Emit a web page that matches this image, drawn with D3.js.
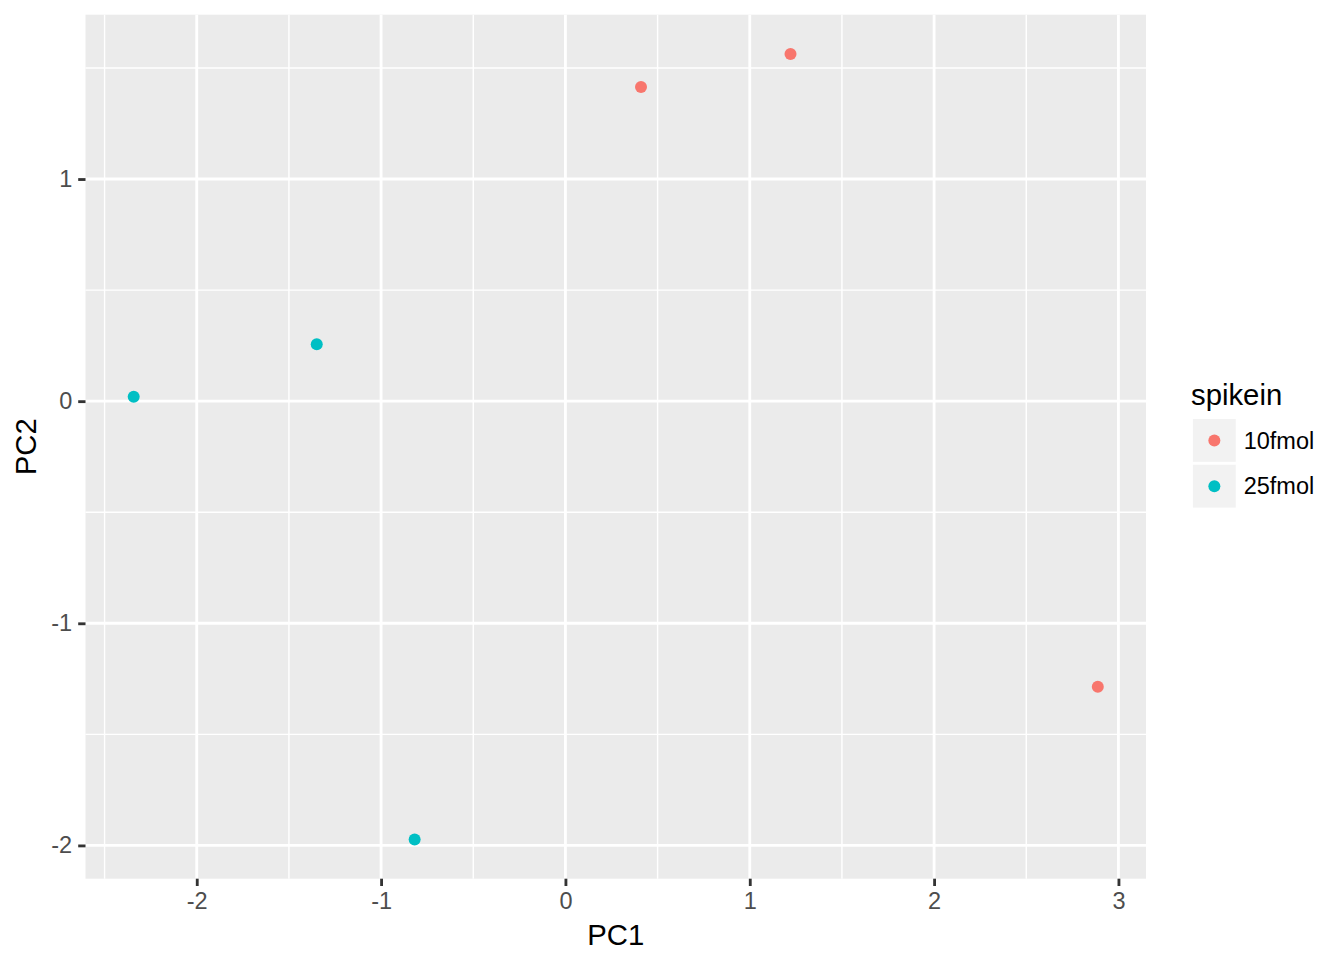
<!DOCTYPE html>
<html>
<head>
<meta charset="utf-8">
<script src="https://cdn.jsdelivr.net/npm/d3@7"></script>
<style>
  html, body { margin: 0; padding: 0; background: #ffffff; }
  svg { display: block; font-family: "Liberation Sans", Arial, Helvetica, sans-serif; }
</style>
</head>
<body>
<svg id="chart" width="1344" height="960"></svg>
<script>
// ---- data ----
const pc1 = [0.410, 1.221, 2.888, -2.342, -1.349, -0.818];
const pc2 = [1.414, 1.563, -1.286, 0.020, 0.256, -1.973];
const spikein = ["10fmol", "10fmol", "10fmol", "25fmol", "25fmol", "25fmol"];
const groups = ["10fmol", "25fmol"];
const groupColors = ["#F8766D", "#00BFC4"];
const xTicks = [-2, -1, 0, 1, 2, 3];
const xMinor = [-2.5, -1.5, -0.5, 0.5, 1.5, 2.5];
const yTicks = [-2, -1, 0, 1];
const yMinor = [-1.5, -0.5, 0.5, 1.5];
const xTitle = "PC1";
const yTitle = "PC2";
const legendTitle = "spikein";

// ---- layout ----
const panel = { left: 85.5, right: 1146, top: 14.7, bottom: 878.7 };
const textSize = 23.5, titleSize = 29.3;

function expand(vals) {
  const [a, b] = d3.extent(vals);
  const s = b - a;
  return [a - 0.05 * s, b + 0.05 * s];
}

const x = d3.scaleLinear().domain(expand(pc1)).range([panel.left, panel.right]);
const y = d3.scaleLinear().domain(expand(pc2)).range([panel.bottom, panel.top]);
const color = d3.scaleOrdinal().domain(groups).range(groupColors);

const svg = d3.select("#chart");

// panel background
svg.append("rect")
  .attr("x", panel.left).attr("y", panel.top)
  .attr("width", panel.right - panel.left).attr("height", panel.bottom - panel.top)
  .attr("fill", "#EBEBEB");

const grid = svg.append("g");
// minor grid
grid.selectAll(".vminor").data(xMinor).enter().append("line")
  .attr("x1", d => x(d)).attr("x2", d => x(d))
  .attr("y1", panel.top).attr("y2", panel.bottom)
  .attr("stroke", "#ffffff").attr("stroke-width", 1.42);
grid.selectAll(".hminor").data(yMinor).enter().append("line")
  .attr("y1", d => y(d)).attr("y2", d => y(d))
  .attr("x1", panel.left).attr("x2", panel.right)
  .attr("stroke", "#ffffff").attr("stroke-width", 1.42);
// major grid
grid.selectAll(".vmajor").data(xTicks).enter().append("line")
  .attr("x1", d => x(d)).attr("x2", d => x(d))
  .attr("y1", panel.top).attr("y2", panel.bottom)
  .attr("stroke", "#ffffff").attr("stroke-width", 2.84);
grid.selectAll(".hmajor").data(yTicks).enter().append("line")
  .attr("y1", d => y(d)).attr("y2", d => y(d))
  .attr("x1", panel.left).attr("x2", panel.right)
  .attr("stroke", "#ffffff").attr("stroke-width", 2.84);

// axes
const xAxis = d3.axisBottom(x).tickValues(xTicks).tickSize(7.3).tickPadding(6).tickFormat(d3.format("d"));
const yAxis = d3.axisLeft(y).tickValues(yTicks).tickSize(7.3).tickPadding(6).tickFormat(d3.format("d"));

const gx = svg.append("g").attr("transform", `translate(0,${panel.bottom})`).call(xAxis);
const gy = svg.append("g").attr("transform", `translate(${panel.left},0)`).call(yAxis);
[gx, gy].forEach(g => {
  g.select(".domain").remove();
  g.selectAll(".tick line").attr("stroke", "#333333").attr("stroke-width", 2.84);
  g.selectAll(".tick text")
    .attr("fill", "#4D4D4D")
    .attr("font-size", textSize)
    .attr("font-family", "'Liberation Sans', Arial, Helvetica, sans-serif");
});
// ascii hyphen-minus like R
gx.selectAll(".tick text").text(d => String(d));
gy.selectAll(".tick text").text(d => String(d));

// axis titles
svg.append("text")
  .attr("x", (panel.left + panel.right) / 2).attr("y", 945)
  .attr("text-anchor", "middle").attr("font-size", titleSize).attr("fill", "#000")
  .text(xTitle);
svg.append("text")
  .attr("transform", `translate(36,${(panel.top + panel.bottom) / 2}) rotate(-90)`)
  .attr("text-anchor", "middle").attr("font-size", titleSize).attr("fill", "#000")
  .text(yTitle);

// points
svg.append("g").selectAll("circle").data(pc1.map((v, i) => ({ x: v, y: pc2[i], g: spikein[i] })))
  .enter().append("circle")
  .attr("cx", d => x(d.x)).attr("cy", d => y(d.y)).attr("r", 6)
  .attr("fill", d => color(d.g));

// legend
const legend = svg.append("g");
legend.append("text")
  .attr("x", 1191).attr("y", 405)
  .attr("font-size", titleSize).attr("fill", "#000")
  .text(legendTitle);
const keySize = 45.7, keyTop = 417.6, keyLeft = 1191.5;
const items = legend.selectAll(".item").data(groups).enter().append("g")
  .attr("transform", (d, i) => `translate(${keyLeft},${keyTop + i * keySize})`);
items.append("rect")
  .attr("width", keySize).attr("height", keySize)
  .attr("fill", "#F2F2F2").attr("stroke", "#ffffff").attr("stroke-width", 2.84);
items.append("circle")
  .attr("cx", keySize / 2).attr("cy", keySize / 2).attr("r", 6)
  .attr("fill", d => color(d));
items.append("text")
  .attr("x", keySize + 6.5).attr("y", keySize / 2 + 8.3)
  .attr("font-size", textSize).attr("fill", "#000")
  .text(d => d);
</script>
</body>
</html>
